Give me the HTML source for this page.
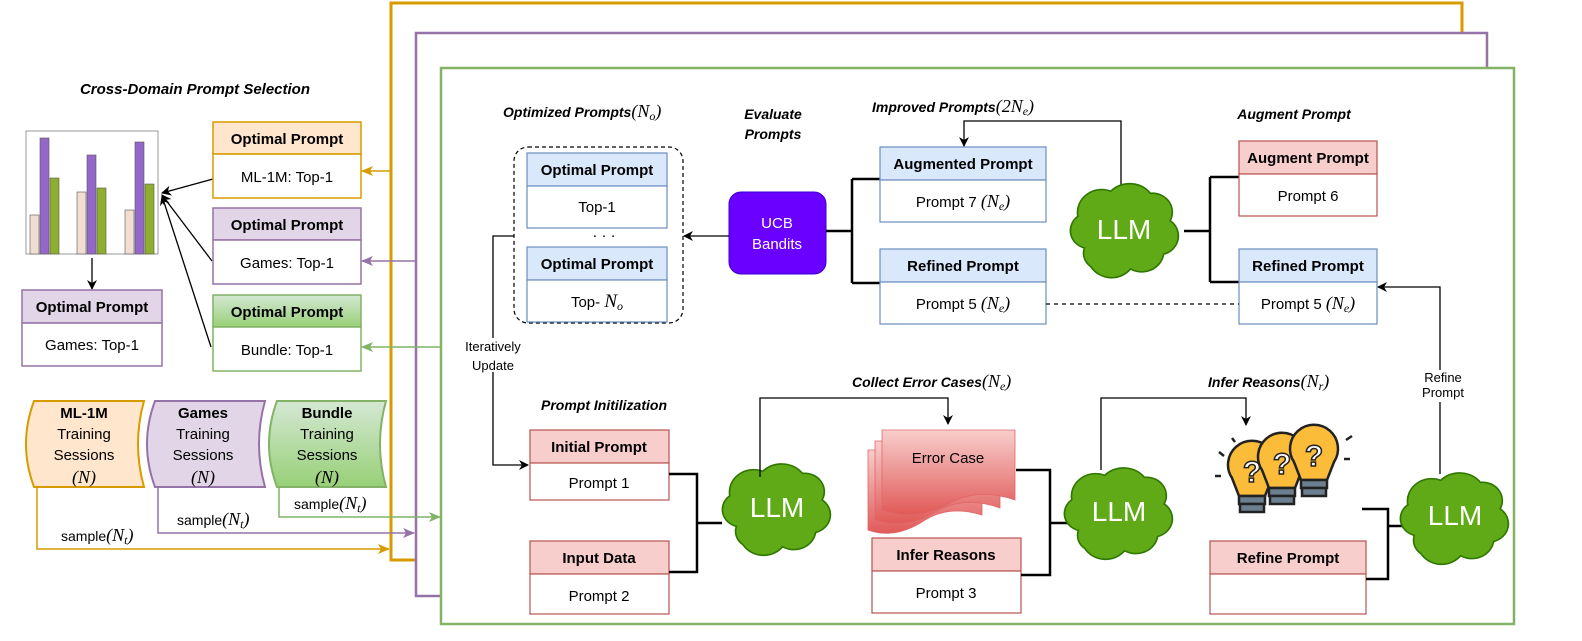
<!DOCTYPE html>
<html><head><meta charset="utf-8"><style>
html,body{margin:0;padding:0;background:#fff}
svg{display:block;font-family:"Liberation Sans",sans-serif}
.m{font-family:"Liberation Serif",serif;font-style:italic}
.b{font-weight:bold}
</style></head><body>
<svg width="1582" height="641" viewBox="0 0 1582 641" xmlns="http://www.w3.org/2000/svg">
<defs>
<marker id="ak" markerWidth="10" markerHeight="10" refX="9" refY="5" orient="auto" markerUnits="userSpaceOnUse"><path d="M0,0 L10,5 L0,10 L3,5 z" fill="#000"/></marker>
<marker id="ao" markerWidth="12" markerHeight="10" refX="11" refY="5" orient="auto" markerUnits="userSpaceOnUse"><path d="M0,0 L12,5 L0,10 L3,5 z" fill="#d79b00"/></marker>
<marker id="ap" markerWidth="12" markerHeight="10" refX="11" refY="5" orient="auto" markerUnits="userSpaceOnUse"><path d="M0,0 L12,5 L0,10 L3,5 z" fill="#9673a6"/></marker>
<marker id="ag" markerWidth="12" markerHeight="10" refX="11" refY="5" orient="auto" markerUnits="userSpaceOnUse"><path d="M0,0 L12,5 L0,10 L3,5 z" fill="#82b366"/></marker>
<path id="cloud" d="M-36,18 a17,17 0 0 1 -6,-30 a22,22 0 0 1 30,-24 a24,24 0 0 1 36,2 a18,18 0 0 1 18,26 a18,18 0 0 1 -6,32 a20,20 0 0 1 -30,14 a22,22 0 0 1 -36,-2 a16,16 0 0 1 -6,-18 z" fill="#60a917" stroke="#2d7600" stroke-width="1.5"/>
<linearGradient id="gg" x1="0" y1="0" x2="0" y2="1"><stop offset="0" stop-color="#d5e8d4"/><stop offset="1" stop-color="#97d077"/></linearGradient>
<linearGradient id="gr" x1="0" y1="0" x2="0" y2="1"><stop offset="0" stop-color="#f8cecc"/><stop offset="1" stop-color="#e05a58"/></linearGradient>
</defs>

<rect x="391" y="3" width="1071" height="557" fill="#fff" stroke="#d79b00" stroke-width="3"/>
<rect x="416" y="33" width="1071" height="563" fill="#fff" stroke="#9673a6" stroke-width="2.5"/>
<rect x="441" y="68" width="1073" height="556" fill="#fff" stroke="#82b366" stroke-width="2.5"/>

<text x="195" y="94" text-anchor="middle" font-size="15" class="b" font-style="italic">Cross-Domain Prompt Selection</text>
<rect x="26" y="131" width="132" height="123" fill="#fff" stroke="#999"/>
<g stroke="#555" stroke-width="0.6">
<rect x="30" y="215" width="9" height="39" fill="#f0dfd0"/><rect x="40" y="138" width="9" height="116" fill="#9468c8"/><rect x="50" y="178" width="9" height="76" fill="#8fae2e"/>
<rect x="77" y="192" width="9" height="62" fill="#f0dfd0"/><rect x="87" y="155" width="9" height="99" fill="#9468c8"/><rect x="97" y="188" width="9" height="66" fill="#8fae2e"/>
<rect x="125" y="210" width="9" height="44" fill="#f0dfd0"/><rect x="135" y="142" width="9" height="112" fill="#9468c8"/><rect x="145" y="184" width="9" height="70" fill="#8fae2e"/>
</g>
<line x1="92" y1="258" x2="92" y2="289" stroke="#000" stroke-width="1.3" marker-end="url(#ak)"/>
<g stroke="#000" stroke-width="1.3" fill="none">
<line x1="213" y1="179" x2="162" y2="193" marker-end="url(#ak)"/>
<line x1="212" y1="261" x2="162" y2="195" marker-end="url(#ak)"/>
<line x1="211" y1="347" x2="162" y2="196" marker-end="url(#ak)"/>
</g>
<rect x="213" y="122" width="148" height="32" fill="#ffe6cc" stroke="#d79b00" stroke-width="1.5"/><rect x="213" y="154" width="148" height="44" fill="#fff" stroke="#d79b00" stroke-width="1.5"/>
<text x="287" y="144" text-anchor="middle" font-size="15" class="b">Optimal Prompt</text><text x="287" y="182" text-anchor="middle" font-size="15">ML-1M: Top-1</text>
<rect x="213" y="208" width="148" height="32" fill="#e1d5e7" stroke="#9673a6" stroke-width="1.5"/><rect x="213" y="240" width="148" height="44" fill="#fff" stroke="#9673a6" stroke-width="1.5"/>
<text x="287" y="230" text-anchor="middle" font-size="15" class="b">Optimal Prompt</text><text x="287" y="268" text-anchor="middle" font-size="15">Games: Top-1</text>
<rect x="213" y="295" width="148" height="32" fill="url(#gg)" stroke="#82b366" stroke-width="1.5"/><rect x="213" y="327" width="148" height="44" fill="#fff" stroke="#82b366" stroke-width="1.5"/>
<text x="287" y="317" text-anchor="middle" font-size="15" class="b">Optimal Prompt</text><text x="287" y="355" text-anchor="middle" font-size="15">Bundle: Top-1</text>
<rect x="22" y="290" width="140" height="33" fill="#e1d5e7" stroke="#9673a6" stroke-width="1.5"/><rect x="22" y="323" width="140" height="43" fill="#fff" stroke="#9673a6" stroke-width="1.5"/>
<text x="92" y="312" text-anchor="middle" font-size="15" class="b">Optimal Prompt</text><text x="92" y="350" text-anchor="middle" font-size="15">Games: Top-1</text>
<line x1="392" y1="171" x2="362" y2="171" stroke="#d79b00" stroke-width="1.5" marker-end="url(#ao)"/>
<line x1="417" y1="261" x2="362" y2="261" stroke="#9673a6" stroke-width="1.5" marker-end="url(#ap)"/>
<line x1="442" y1="347" x2="362" y2="347" stroke="#82b366" stroke-width="1.5" marker-end="url(#ag)"/>

<path d="M34,401 H144 Q132,444 144,487 H34 Q18,444 34,401 z" fill="#ffe6cc" stroke="#d79b00" stroke-width="2"/>
<path d="M155,401 H265 Q253,444 265,487 H155 Q139,444 155,401 z" fill="#e1d5e7" stroke="#9673a6" stroke-width="2"/>
<path d="M277,401 H386 Q374,444 386,487 H277 Q261,444 277,401 z" fill="url(#gg)" stroke="#82b366" stroke-width="2"/>
<g font-size="15" text-anchor="middle">
<text x="84" y="418" class="b">ML-1M</text><text x="84" y="439">Training</text><text x="84" y="460">Sessions</text><text x="84" y="483" class="m" font-size="18">(N)</text>
<text x="203" y="418" class="b">Games</text><text x="203" y="439">Training</text><text x="203" y="460">Sessions</text><text x="203" y="483" class="m" font-size="18">(N)</text>
<text x="327" y="418" class="b">Bundle</text><text x="327" y="439">Training</text><text x="327" y="460">Sessions</text><text x="327" y="483" class="m" font-size="18">(N)</text>
</g>
<path d="M37,487 V549 H389" fill="none" stroke="#d79b00" stroke-width="1.5" marker-end="url(#ao)"/>
<path d="M158,487 V533 H414" fill="none" stroke="#9673a6" stroke-width="1.5" marker-end="url(#ap)"/>
<path d="M279,487 V517 H440" fill="none" stroke="#82b366" stroke-width="1.5" marker-end="url(#ag)"/>
<g font-size="14"><text x="61" y="541">sample<tspan class="m" font-size="18">(N<tspan font-size="12" dy="3">t</tspan><tspan dy="-3">)</tspan></tspan></text>
<text x="177" y="525">sample<tspan class="m" font-size="18">(N<tspan font-size="12" dy="3">t</tspan><tspan dy="-3">)</tspan></tspan></text>
<text x="294" y="509">sample<tspan class="m" font-size="18">(N<tspan font-size="12" dy="3">t</tspan><tspan dy="-3">)</tspan></tspan></text></g>

<text x="503" y="117" font-size="14" class="b" font-style="italic">Optimized Prompts<tspan class="m" font-size="18" font-weight="normal">(N<tspan font-size="12" dy="3">o</tspan><tspan dy="-3">)</tspan></tspan></text>
<text x="773" y="119" text-anchor="middle" font-size="14" class="b" font-style="italic">Evaluate</text>
<text x="773" y="139" text-anchor="middle" font-size="14" class="b" font-style="italic">Prompts</text>
<rect x="514" y="147" width="169" height="176" rx="14" fill="none" stroke="#000" stroke-dasharray="4,3" stroke-width="1.2"/>
<rect x="527" y="153" width="140" height="33" fill="#dae8fc" stroke="#6c8ebf" stroke-width="1.2"/><rect x="527" y="186" width="140" height="42" fill="#fff" stroke="#6c8ebf" stroke-width="1.2"/>
<text x="597" y="175" text-anchor="middle" font-size="15" class="b">Optimal Prompt</text><text x="597" y="212" text-anchor="middle" font-size="15">Top-1</text>
<text x="604" y="240" text-anchor="middle" font-size="15">· · ·</text>
<rect x="527" y="247" width="140" height="33" fill="#dae8fc" stroke="#6c8ebf" stroke-width="1.2"/><rect x="527" y="280" width="140" height="42" fill="#fff" stroke="#6c8ebf" stroke-width="1.2"/>
<text x="597" y="269" text-anchor="middle" font-size="15" class="b">Optimal Prompt</text><text x="597" y="307" text-anchor="middle" font-size="15">Top- <tspan class="m" font-size="19">N<tspan font-size="12" dy="3">o</tspan></tspan></text>
<rect x="729" y="192" width="97" height="82" rx="12" fill="#6a00ff" stroke="#3700cc"/>
<text x="777" y="228" text-anchor="middle" font-size="15" fill="#fff">UCB</text><text x="777" y="249" text-anchor="middle" font-size="15" fill="#fff">Bandits</text>
<line x1="729" y1="236" x2="684" y2="236" stroke="#000" stroke-width="1.3" marker-end="url(#ak)"/>
<path d="M826,231 H852 M852,179 V283 M852,179 H880 M852,283 H880" fill="none" stroke="#000" stroke-width="2.5"/>
<rect x="880" y="147" width="166" height="33" fill="#dae8fc" stroke="#6c8ebf" stroke-width="1.2"/><rect x="880" y="180" width="166" height="42" fill="#fff" stroke="#6c8ebf" stroke-width="1.2"/>
<text x="963" y="169" text-anchor="middle" font-size="15" class="b">Augmented Prompt</text>
<text x="963" y="207" text-anchor="middle" font-size="15">Prompt 7 <tspan class="m" font-size="18">(N<tspan font-size="12" dy="3">e</tspan><tspan dy="-3">)</tspan></tspan></text>
<rect x="880" y="249" width="166" height="33" fill="#dae8fc" stroke="#6c8ebf" stroke-width="1.2"/><rect x="880" y="282" width="166" height="42" fill="#fff" stroke="#6c8ebf" stroke-width="1.2"/>
<text x="963" y="271" text-anchor="middle" font-size="15" class="b">Refined Prompt</text>
<text x="963" y="309" text-anchor="middle" font-size="15">Prompt 5 <tspan class="m" font-size="18">(N<tspan font-size="12" dy="3">e</tspan><tspan dy="-3">)</tspan></tspan></text>
<text x="872" y="112" font-size="14" class="b" font-style="italic">Improved Prompts<tspan class="m" font-size="18" font-weight="normal">(2N<tspan font-size="12" dy="3">e</tspan><tspan dy="-3">)</tspan></tspan></text>
<path d="M1121,188 V121 H964 V146" fill="none" stroke="#000" stroke-width="1.3" marker-end="url(#ak)"/>
<use href="#cloud" transform="translate(1124,229) scale(1.1,1.05)"/>
<text x="1124" y="239" text-anchor="middle" font-size="28" fill="#fff">LLM</text>
<path d="M1184,231 H1210 M1210,177 V282 M1210,177 H1239 M1210,282 H1239" fill="none" stroke="#000" stroke-width="2.5"/>
<text x="1294" y="119" text-anchor="middle" font-size="14" class="b" font-style="italic">Augment Prompt</text>
<rect x="1239" y="141" width="138" height="33" fill="#f8cecc" stroke="#b85450" stroke-width="1.2"/><rect x="1239" y="174" width="138" height="42" fill="#fff" stroke="#b85450" stroke-width="1.2"/>
<text x="1308" y="163" text-anchor="middle" font-size="15" class="b">Augment Prompt</text><text x="1308" y="201" text-anchor="middle" font-size="15">Prompt 6</text>
<rect x="1239" y="249" width="138" height="33" fill="#dae8fc" stroke="#6c8ebf" stroke-width="1.2"/><rect x="1239" y="282" width="138" height="42" fill="#fff" stroke="#6c8ebf" stroke-width="1.2"/>
<text x="1308" y="271" text-anchor="middle" font-size="15" class="b">Refined Prompt</text>
<text x="1308" y="309" text-anchor="middle" font-size="15">Prompt 5 <tspan class="m" font-size="18">(N<tspan font-size="12" dy="3">e</tspan><tspan dy="-3">)</tspan></tspan></text>
<line x1="1046" y1="304" x2="1239" y2="304" stroke="#000" stroke-dasharray="4,4" stroke-width="1.2"/>
<path d="M1440,474 V287 H1378" fill="none" stroke="#000" stroke-width="1.3" marker-end="url(#ak)"/>
<rect x="1412" y="370" width="60" height="32" fill="#fff"/>
<text x="1443" y="382" text-anchor="middle" font-size="13">Refine</text><text x="1443" y="397" text-anchor="middle" font-size="13">Prompt</text>

<path d="M514,236 H493 V465 H528" fill="none" stroke="#000" stroke-width="1.3" marker-end="url(#ak)"/>
<rect x="460" y="338" width="68" height="34" fill="#fff"/>
<text x="493" y="351" text-anchor="middle" font-size="13">Iteratively</text><text x="493" y="370" text-anchor="middle" font-size="13">Update</text>

<text x="604" y="410" text-anchor="middle" font-size="14" class="b" font-style="italic">Prompt Initilization</text>
<rect x="530" y="430" width="139" height="33" fill="#f8cecc" stroke="#b85450" stroke-width="1.2"/><rect x="530" y="463" width="139" height="37" fill="#fff" stroke="#b85450" stroke-width="1.2"/>
<text x="599" y="452" text-anchor="middle" font-size="15" class="b">Initial Prompt</text><text x="599" y="488" text-anchor="middle" font-size="15">Prompt 1</text>
<rect x="530" y="541" width="139" height="33" fill="#f8cecc" stroke="#b85450" stroke-width="1.2"/><rect x="530" y="574" width="139" height="40" fill="#fff" stroke="#b85450" stroke-width="1.2"/>
<text x="599" y="563" text-anchor="middle" font-size="15" class="b">Input Data</text><text x="599" y="601" text-anchor="middle" font-size="15">Prompt 2</text>
<path d="M669,474 H697 V572 H669 M697,523 H722" fill="none" stroke="#000" stroke-width="2.5"/>
<use href="#cloud" transform="translate(776,508) scale(1.1,1.02)"/>
<text x="777" y="517" text-anchor="middle" font-size="28" fill="#fff">LLM</text>
<path d="M760,477 V398 H948 V424" fill="none" stroke="#000" stroke-width="1.3" marker-end="url(#ak)"/>
<text x="852" y="387" font-size="14" class="b" font-style="italic">Collect Error Cases<tspan class="m" font-size="18" font-weight="normal">(N<tspan font-size="12" dy="3">e</tspan><tspan dy="-3">)</tspan></tspan></text>
<path d="M868,450 H982 V515 Q950,505 925,520 Q895,540 868,530 z" fill="url(#gr)" stroke="#e06666" stroke-width="0.8"/>
<path d="M875,441 H1000 V508 Q965,495 935,512 Q905,530 875,520 z" fill="url(#gr)" stroke="#e06666" stroke-width="0.8"/>
<path d="M882,430 H1015 V500 Q978,487 948,504 Q915,522 882,510 z" fill="url(#gr)" stroke="#e06666" stroke-width="0.8"/>
<text x="948" y="463" text-anchor="middle" font-size="15">Error Case</text>
<rect x="872" y="538" width="149" height="33" fill="#f8cecc" stroke="#b85450" stroke-width="1.2"/><rect x="872" y="571" width="149" height="42" fill="#fff" stroke="#b85450" stroke-width="1.2"/>
<text x="946" y="560" text-anchor="middle" font-size="15" class="b">Infer Reasons</text><text x="946" y="598" text-anchor="middle" font-size="15">Prompt 3</text>
<path d="M1016,470 H1050 V575 H1021 M1050,523 H1072" fill="none" stroke="#000" stroke-width="2.5"/>
<use href="#cloud" transform="translate(1118,512) scale(1.1,1.02)"/>
<text x="1119" y="521" text-anchor="middle" font-size="28" fill="#fff">LLM</text>
<path d="M1101,470 V398 H1246 V425" fill="none" stroke="#000" stroke-width="1.3" marker-end="url(#ak)"/>
<text x="1208" y="387" font-size="14" class="b" font-style="italic">Infer Reasons<tspan class="m" font-size="18" font-weight="normal">(N<tspan font-size="12" dy="3">r</tspan><tspan dy="-3">)</tspan></tspan></text>
<g stroke="#222" stroke-width="2.5">
<g transform="translate(1252,472)"><path d="M-20,6 a24,24 0 1 1 40,0 l-7,18 h-26 z" fill="#fbbc3a"/><rect x="-13" y="24" width="26" height="8" fill="#6b7f8e"/><rect x="-12" y="32" width="24" height="8" fill="#6b7f8e"/><text x="0" y="10" text-anchor="middle" font-size="30" class="b" fill="#fff" stroke="#222" stroke-width="1.5">?</text></g>
<g transform="translate(1282,464)"><path d="M-20,6 a24,24 0 1 1 40,0 l-7,18 h-26 z" fill="#fbbc3a"/><rect x="-13" y="24" width="26" height="8" fill="#6b7f8e"/><rect x="-12" y="32" width="24" height="8" fill="#6b7f8e"/><text x="0" y="10" text-anchor="middle" font-size="30" class="b" fill="#fff" stroke="#222" stroke-width="1.5">?</text></g>
<g transform="translate(1314,456)"><path d="M-20,6 a24,24 0 1 1 40,0 l-7,18 h-26 z" fill="#fbbc3a"/><rect x="-13" y="24" width="26" height="8" fill="#6b7f8e"/><rect x="-12" y="32" width="24" height="8" fill="#6b7f8e"/><text x="0" y="10" text-anchor="middle" font-size="30" class="b" fill="#fff" stroke="#222" stroke-width="1.5">?</text></g>
<path d="M1219,452 l5,4 M1215,476 h6 M1352,436 l-6,4 M1350,459 h-6 M1232,438 l3,4"/>
</g>
<rect x="1210" y="541" width="156" height="33" fill="#f8cecc" stroke="#b85450" stroke-width="1.2"/><rect x="1210" y="574" width="156" height="40" fill="#fff" stroke="#b85450" stroke-width="1.2"/>
<text x="1288" y="563" text-anchor="middle" font-size="15" class="b">Refine Prompt</text>
<path d="M1366,579 H1388 V509 H1362 M1388,526 H1406" fill="none" stroke="#000" stroke-width="2.5"/>
<use href="#cloud" transform="translate(1454,517) scale(1.1,1.02)"/>
<text x="1455" y="525" text-anchor="middle" font-size="28" fill="#fff">LLM</text>
</svg>
</body></html>
